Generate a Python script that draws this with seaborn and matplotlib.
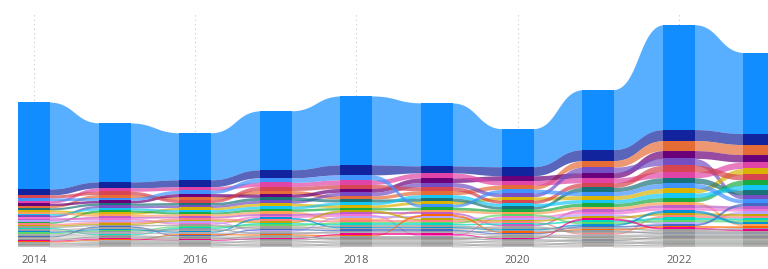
#! /usr/bin/env python3

import numpy as np
import pandas as pd
import seaborn as sns
import matplotlib.pyplot as plt

years = [2014, 2015, 2016, 2017, 2018, 2019, 2020, 2021, 2022, 2023]
tick_years = [2014, 2016, 2018, 2020, 2022]

# one list per category, values per year
c_blue = [87, 59, 47, 59, 69, 63, 38, 60, 105, 81]
c_navy = [6, 6, 7, 8, 10, 7, 9, 11, 11, 11]
c_orange = [2.2, 3.0, 3.0, 3.6, 3.3, 3.8, 4.2, 6.5, 10.0, 10.0]
c_purple = [2.4, 2.6, 3.1, 3.3, 3.8, 4.6, 4.8, 5.2, 7.8, 7.4]
c_pink = [2.5, 3.4, 3.4, 4.2, 4.6, 5.0, 4.6, 4.9, 6.0, 6.4]
c_violet = [1.8, 2.4, 2.4, 2.9, 3.5, 4.4, 3.6, 5.6, 7.0, 4.4]
c_yellow = [2.0, 2.2, 2.3, 2.8, 2.7, 3.0, 3.4, 3.9, 4.7, 6.0]
c_red = [3.0, 3.2, 2.9, 3.9, 4.0, 4.0, 3.2, 4.6, 6.4, 5.6]
c_teal = [2.0, 2.4, 2.5, 3.0, 3.0, 3.2, 2.7, 4.2, 5.6, 4.6]
c_green = [1.5, 2.2, 2.1, 2.5, 2.4, 2.8, 2.5, 3.4, 4.2, 5.2]
c_cyan = [1.8, 2.2, 2.2, 2.7, 2.8, 3.4, 3.0, 3.6, 4.5, 5.0]
c_ltblue = [2.7, 2.9, 3.3, 4.6, 5.0, 2.9, 3.9, 4.0, 5.0, 4.0]
m01 = [1.8, 2.0, 2.0, 2.2, 1.8, 2.3, 2.2, 2.6, 3.0, 1.8]
m02 = [1.6, 1.8, 1.8, 2.0, 2.1, 2.1, 1.5, 2.4, 2.8, 2.6]
m03 = [1.6, 1.7, 1.5, 1.9, 2.0, 1.3, 1.9, 2.3, 2.6, 2.5]
m04 = [1.5, 1.6, 1.6, 1.4, 1.9, 1.9, 1.8, 2.2, 2.0, 2.4]
m05 = [1.4, 1.5, 1.6, 1.7, 2.3, 1.8, 1.7, 2.1, 2.4, 2.3]
m06 = [1.4, 1.5, 1.7, 1.7, 1.7, 1.7, 1.6, 1.4, 2.3, 2.2]
m07 = [1.3, 1.2, 1.4, 1.6, 1.6, 1.6, 1.5, 1.9, 2.2, 2.1]
m08 = [1.2, 1.3, 1.4, 1.5, 1.6, 1.6, 2.0, 1.8, 2.1, 2.0]
m09 = [1.2, 1.3, 1.3, 1.8, 1.5, 1.5, 1.4, 1.7, 2.5, 1.9]
m10 = [1.1, 1.4, 1.2, 1.4, 1.4, 1.4, 1.3, 1.6, 1.9, 2.8]
m11 = [1.0, 1.1, 1.2, 1.3, 1.3, 2.0, 1.3, 1.5, 1.8, 1.7]
m12 = [1.0, 1.1, 1.1, 1.2, 1.3, 1.3, 1.2, 2.0, 1.7, 1.6]
# long tail of small categories (greyish at the bottom of every bar)
g01 = [1.3, 1.4, 1.4, 1.4, 1.5, 1.5, 1.4, 1.5, 1.6, 1.6]
g02 = [1.25, 1.3, 1.3, 1.4, 1.4, 1.4, 1.4, 1.4, 1.5, 1.5]
g03 = [1.2, 1.25, 1.3, 1.3, 1.35, 1.35, 1.3, 1.4, 1.45, 1.45]
g04 = [1.15, 1.2, 1.2, 1.3, 1.3, 1.3, 1.25, 1.35, 1.4, 1.4]
g05 = [1.1, 1.15, 1.15, 1.2, 1.25, 1.25, 1.2, 1.3, 1.35, 1.35]
g06 = [1.05, 1.1, 1.1, 1.2, 1.2, 1.2, 1.2, 1.25, 1.3, 1.3]
g07 = [1.0, 1.1, 1.1, 1.15, 1.2, 1.2, 1.15, 1.2, 1.3, 1.3]
g08 = [1.0, 1.05, 1.05, 1.1, 1.15, 1.15, 1.1, 1.2, 1.25, 1.25]
g09 = [0.95, 1.0, 1.0, 1.1, 1.1, 1.1, 1.1, 1.15, 1.2, 1.2]
g10 = [0.9, 1.0, 1.0, 1.05, 1.1, 1.1, 1.05, 1.1, 1.2, 1.2]
g11 = [0.85, 0.95, 0.95, 1.0, 1.05, 1.05, 1.0, 1.1, 1.15, 1.15]
g12 = [0.8, 0.9, 0.9, 1.0, 1.0, 1.0, 1.0, 1.05, 1.1, 1.1]
g13 = [0.75, 0.9, 0.9, 0.95, 1.0, 1.0, 0.95, 1.0, 1.1, 1.1]
g14 = [0.7, 0.8, 0.8, 0.85, 0.9, 0.9, 0.85, 0.95, 1.0, 1.0]

series = [c_blue, c_navy, c_orange, c_purple, c_pink, c_violet, c_yellow,
          c_red, c_teal, c_green, c_cyan, c_ltblue,
          m01, m02, m03, m04, m05, m06, m07, m08, m09, m10, m11, m12,
          g01, g02, g03, g04, g05, g06, g07, g08, g09, g10, g11, g12, g13, g14]
categories = [f"Cat {i + 1:02d}" for i in range(len(series))]

colors = sns.color_palette([
    "#118DFF", "#12239E", "#E66C37", "#6B007B", "#E044A7", "#744EC2",
    "#D9B300", "#D64550", "#197278", "#1AAB40", "#15C6F4", "#4092FF",
    "#FFA058", "#BE5DC9", "#F472D0", "#B5A1FF", "#C4A200", "#FF8080",
    "#00DBBC", "#5BD667", "#0091D5", "#4668C5", "#FF6300", "#EC008C",
    "#9C9C9C", "#A8A29A", "#8E98A3", "#B0A8B0", "#9AA39A", "#A39C8E",
    "#8F8F99", "#B5B5B5", "#A0A8A0", "#ABABAB", "#9999A3", "#B3ADA6",
    "#A6A6A6", "#BDBDBD",
])

df = pd.DataFrame(
    [(c, i, v) for c, vals in zip(categories, series) for i, v in enumerate(vals)],
    columns=["category", "pos", "value"],
)
# ribbon chart: within each year the biggest category sits on top
df = df.sort_values(["pos", "value"], ascending=[True, True])
df["bottom"] = df.groupby("pos")["value"].cumsum() - df["value"]
df["top"] = df["bottom"] + df["value"]

sns.set_theme(style="white")
fig = plt.figure(figsize=(7.68, 2.69), dpi=100)
ax = fig.add_axes([0, 22 / 269, 1, 234 / 269])

width = 0.397
cmap = dict(zip(categories, colors))
t = np.linspace(0, 1, 60)

for cat in categories:
    d = df[df["category"] == cat].set_index("pos")
    for i in range(len(years) - 1):
        x0, x1 = i + width / 2 - 0.02, i + 1 - width / 2 + 0.02
        xm = (x0 + x1) / 2
        # cubic bezier, same parameter for both edges
        xs = (1 - t) ** 3 * x0 + 3 * (1 - t) ** 2 * t * xm + 3 * (1 - t) * t ** 2 * xm + t ** 3 * x1
        s = 3 * t ** 2 - 2 * t ** 3
        lo = d.loc[i, "bottom"] + (d.loc[i + 1, "bottom"] - d.loc[i, "bottom"]) * s
        hi = d.loc[i, "top"] + (d.loc[i + 1, "top"] - d.loc[i, "top"]) * s
        ax.fill_between(xs, lo, hi, color=cmap[cat], alpha=0.7, lw=0, zorder=2)

for cat in categories:
    d = df[df["category"] == cat]
    ax.bar(d["pos"], d["value"], bottom=d["bottom"], width=width,
           color=cmap[cat], linewidth=0, zorder=3)

ax.set_xlim(-0.422, 9.107)
ax.set_ylim(0, 234)
ax.set_xticks([years.index(y) for y in tick_years])
ax.set_xticklabels([str(y) for y in tick_years], fontsize=8, color="#605E5C",
                   family="Open Sans")
ax.tick_params(axis="x", length=0, pad=6)
ax.set_yticks([])
ax.grid(axis="x", linestyle=(0, (1, 3)), color="#C8C8C8", linewidth=0.8, zorder=0)
ax.set_axisbelow(True)
for sp in ax.spines.values():
    sp.set_visible(False)

plt.savefig("out.png", dpi=100)
